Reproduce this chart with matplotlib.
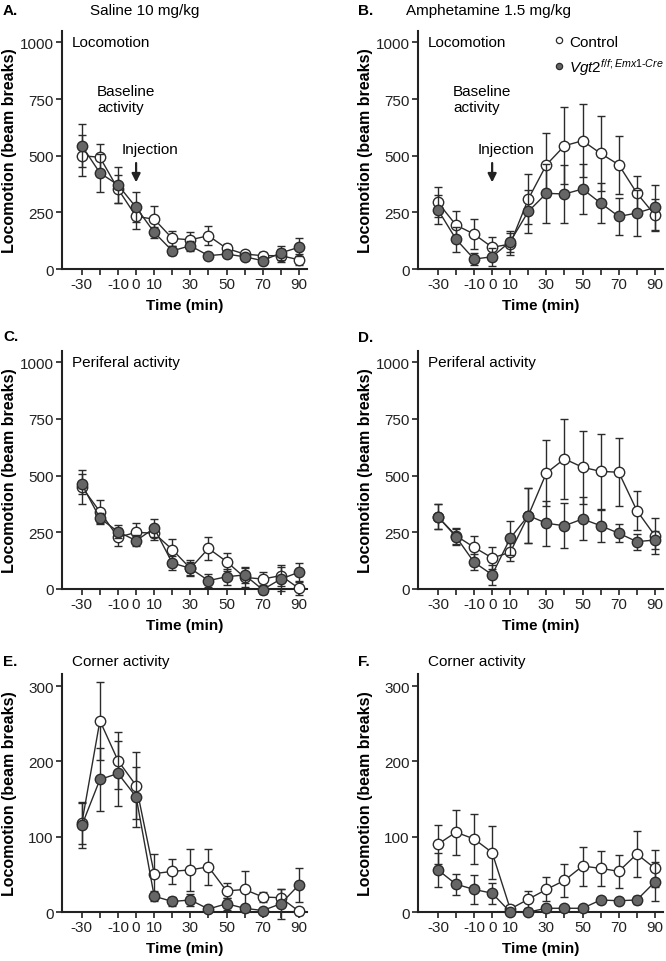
import numpy as np
import matplotlib.pyplot as plt
from matplotlib.lines import Line2D

plt.rcParams['font.family'] = ['Liberation Sans', 'DejaVu Sans']
plt.rcParams['mathtext.fontset'] = 'custom'
plt.rcParams['mathtext.it'] = 'Liberation Sans:italic'
plt.rcParams['mathtext.rm'] = 'Liberation Sans'

# time bins (min)
times = [-30, -20, -10, 0, 10, 20, 30, 40, 50, 60, 70, 80, 90]
tick_labels = ['-30', '', '-10', '0', '10', '', '30', '', '50', '', '70', '', '90']

# A. saline, locomotion
a_ctrl = [500, 493, 353, 232, 220, 135, 129, 147, 91, 66, 59, 59, 41]
a_ctrl_err = [90, 58, 60, 56, 58, 35, 35, 42, 20, 15, 15, 30, 25]
a_ko = [544, 424, 371, 272, 162, 80, 103, 59, 66, 54, 37, 71, 96]
a_ko_err = [95, 83, 80, 66, 25, 20, 22, 10, 15, 12, 12, 30, 40]

# B. amphetamine, locomotion
b_ctrl = [294, 194, 154, 96, 110, 309, 460, 544, 566, 510, 460, 335, 238]
b_ctrl_err = [66, 63, 65, 44, 50, 110, 140, 170, 160, 165, 128, 77, 70]
b_ko = [262, 132, 44, 54, 121, 254, 334, 331, 353, 291, 232, 247, 272]
b_ko_err = [65, 55, 25, 40, 45, 95, 130, 130, 110, 88, 80, 100, 100]

# C. saline, periferal
c_ctrl = [450, 341, 228, 250, 246, 174, 91, 179, 121, 51, 44, 59, 3]
c_ctrl_err = [75, 50, 40, 40, 30, 45, 30, 50, 40, 40, 30, 45, 30]
c_ko = [462, 312, 253, 213, 268, 115, 91, 37, 54, 62, -3, 44, 74]
c_ko_err = [45, 25, 30, 25, 40, 30, 35, 30, 35, 35, 20, 55, 40]

# D. amphetamine, periferal
d_ctrl = [319, 235, 184, 137, 162, 324, 512, 574, 537, 519, 515, 346, 235]
d_ctrl_err = [55, 35, 50, 50, 40, 120, 145, 175, 160, 165, 150, 85, 80]
d_ko = [319, 231, 118, 63, 224, 324, 290, 279, 309, 279, 246, 209, 216]
d_ko_err = [55, 35, 35, 45, 75, 120, 100, 100, 95, 70, 40, 35, 40]

# E. saline, corner
e_ctrl = [118, 254, 201, 168, 51, 54, 56, 60, 28, 30, 20, 19, 1]
e_ctrl_err = [28, 52, 38, 45, 26, 17, 28, 24, 10, 24, 7, 12, 5]
e_ko = [115, 176, 184, 153, 21, 14, 16, 4, 11, 5, 2, 11, 36]
e_ko_err = [30, 42, 43, 40, 7, 6, 8, 3, 8, 5, 3, 20, 23]

# F. amphetamine, corner
f_ctrl = [90, 106, 97, 79, 4, 17, 30, 42, 61, 58, 54, 77, 58]
f_ctrl_err = [26, 30, 33, 35, 5, 11, 16, 22, 26, 23, 22, 31, 25]
f_ko = [56, 37, 30, 25, 0, 0, 5, 5, 5, 16, 15, 16, 40]
f_ko_err = [23, 14, 19, 14, 3, 3, 5, 3, 3, 3, 4, 5, 26]

LINE = '#2b2b2b'
GRAY = '#666666'
FS = 11


def panel(ax, ctrl, ctrl_err, ko, ko_err, ymax, yticks):
    ax.errorbar(times, ctrl, yerr=ctrl_err, color=LINE, lw=1.0, elinewidth=1.0,
                capsize=3, capthick=1.0, marker='o', ms=7.5, mfc='white',
                mec=LINE, mew=1.0, clip_on=False, zorder=3)
    ax.errorbar(times, ko, yerr=ko_err, color=LINE, lw=1.0, elinewidth=1.0,
                capsize=3, capthick=1.0, marker='o', ms=7.5, mfc=GRAY,
                mec=LINE, mew=1.0, clip_on=False, zorder=4)
    ax.set_xlim(-41, 94.5)
    ax.set_ylim(0, ymax)
    ax.set_xticks(times)
    ax.set_xticklabels(tick_labels)
    ax.set_yticks(yticks)
    ax.spines['top'].set_visible(False)
    ax.spines['right'].set_visible(False)
    for s in ['left', 'bottom']:
        ax.spines[s].set_linewidth(1.5)
        ax.spines[s].set_color('#222222')
    ax.tick_params(axis='both', direction='out', length=4, width=1.2,
                   labelsize=FS, colors='#222222', pad=2)
    ax.set_ylabel('Locomotion (beam breaks)', fontsize=11.5, fontweight='bold')
    ax.yaxis.set_label_coords(-0.185, 0.5)
    ax.set_xlabel('Time (min)', fontsize=FS, fontweight='bold', labelpad=5)


fig = plt.figure(figsize=(6.66, 9.62), dpi=100)
W = 0.368
H = 0.2474
lefts = [0.093, 0.6276]
bottoms = [0.7193, 0.3867, 0.0509]

axA = fig.add_axes([lefts[0], bottoms[0], W, H])
axB = fig.add_axes([lefts[1], bottoms[0], W, H])
axC = fig.add_axes([lefts[0], bottoms[1], W, H])
axD = fig.add_axes([lefts[1], bottoms[1], W, H])
axE = fig.add_axes([lefts[0], bottoms[2], W, H])
axF = fig.add_axes([lefts[1], bottoms[2], W, H])

loc_ticks = [0, 250, 500, 750, 1000]
panel(axA, a_ctrl, a_ctrl_err, a_ko, a_ko_err, 1050, loc_ticks)
panel(axB, b_ctrl, b_ctrl_err, b_ko, b_ko_err, 1050, loc_ticks)
panel(axC, c_ctrl, c_ctrl_err, c_ko, c_ko_err, 1050, loc_ticks)
panel(axD, d_ctrl, d_ctrl_err, d_ko, d_ko_err, 1050, loc_ticks)
panel(axE, e_ctrl, e_ctrl_err, e_ko, e_ko_err, 316, [0, 100, 200, 300])
panel(axF, f_ctrl, f_ctrl_err, f_ko, f_ko_err, 316, [0, 100, 200, 300])

# in-panel annotations
for ax in (axA, axB):
    ax.text(0.041, 0.954, 'Locomotion', transform=ax.transAxes, fontsize=FS,
            va='center', ha='left')
    ax.text(0.143, 0.714, 'Baseline\nactivity', transform=ax.transAxes,
            fontsize=FS, va='center', ha='left', linespacing=1.15)
    ax.text(0.245, 0.504, 'Injection', transform=ax.transAxes, fontsize=FS,
            va='center', ha='left')
    ax.annotate('', xy=(0, 370), xytext=(0, 480),
                arrowprops=dict(arrowstyle='-|>,head_width=0.25,head_length=0.5',
                                color='#222222', lw=1.6))
for ax in (axC, axD):
    ax.text(0.041, 0.954, 'Periferal activity', transform=ax.transAxes,
            fontsize=FS, va='center', ha='left')

# legend
handles = [Line2D([], [], ls='none', marker='o', ms=4.5, mfc='white', mec=LINE, mew=0.9),
           Line2D([], [], ls='none', marker='o', ms=4.5, mfc=GRAY, mec=LINE, mew=0.9)]
axB.legend(handles, ['Control', r'$\mathit{Vgt2}^{\mathit{f/f;Emx1}\mathrm{\text{-}}\mathit{Cre}}$'],
           loc='upper left', bbox_to_anchor=(0.53, 1.01), frameon=False,
           fontsize=FS, handlelength=0.6, handletextpad=0.4, labelspacing=0.45,
           borderaxespad=0)


# panel letters and headers (figure pixel coords -> fraction)
def fx(px):
    return px / 666


def fy(py):
    return 1 - py / 962


fig.text(fx(3), fy(11), 'A.', fontsize=FS, fontweight='bold', va='center')
fig.text(fx(358), fy(11), 'B.', fontsize=FS, fontweight='bold', va='center')
fig.text(fx(3), fy(337), 'C.', fontsize=FS, fontweight='bold', va='center')
fig.text(fx(358), fy(338), 'D.', fontsize=FS, fontweight='bold', va='center')
fig.text(fx(3), fy(662), 'E.', fontsize=FS, fontweight='bold', va='center')
fig.text(fx(358), fy(662), 'F.', fontsize=FS, fontweight='bold', va='center')
fig.text(fx(90), fy(11), 'Saline 10 mg/kg', fontsize=FS, va='center')
fig.text(fx(406), fy(11), 'Amphetamine 1.5 mg/kg', fontsize=FS, va='center')
fig.text(fx(72), fy(662), 'Corner activity', fontsize=FS, va='center')
fig.text(fx(428), fy(662), 'Corner activity', fontsize=FS, va='center')

fig.savefig('out.png', dpi=100)
